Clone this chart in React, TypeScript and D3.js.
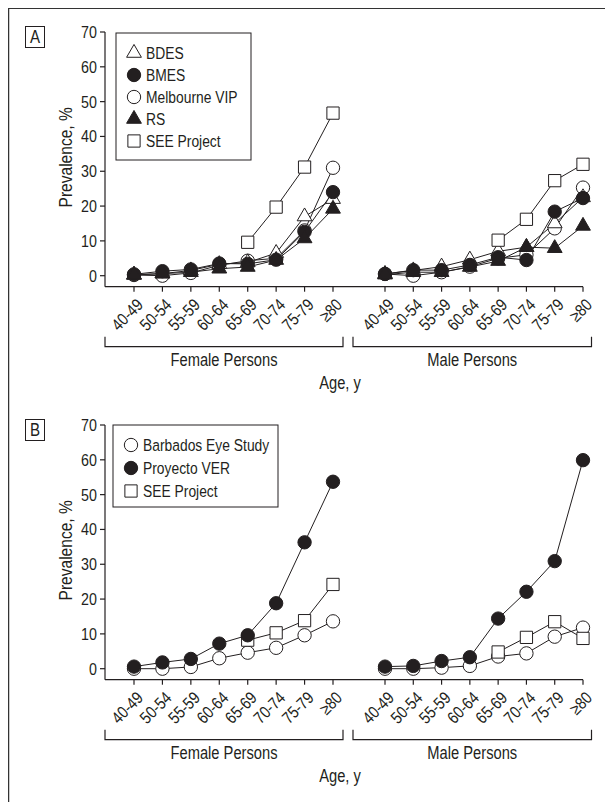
import React from 'react';
import * as d3 from 'd3';

const ageGroups = ['40-49', '50-54', '55-59', '60-64', '65-69', '70-74', '75-79', '≥80'];
const yTicks = [0, 10, 20, 30, 40, 50, 60, 70];

// panel A, female
const bdesF = [0.3, 0.6, 1.5, 3.3, 3.8, 6.5, 17.0, 22.0];
const bmesF = [0.4, 1.3, 1.8, 3.5, 3.4, 4.6, 12.6, 24.0];
const melbF = [0.2, 0.0, 0.8, 3.0, 4.3, 5.0, 13.0, 31.0];
const rsF = [0.2, 0.6, 1.0, 2.0, 2.5, 4.5, 10.7, 19.2];
const seeAF = [null, null, null, null, 9.6, 19.7, 31.2, 46.7];
// panel A, male
const bdesM = [0.5, 1.5, 2.6, 4.6, 7.0, 8.2, 15.0, 22.5];
const bmesM = [0.5, 1.6, 1.6, 3.1, 5.3, 4.5, 18.4, 22.3];
const melbM = [0.5, 0.0, 1.0, 2.6, 5.0, 6.0, 13.6, 25.3];
const rsM = [0.3, 1.0, 1.0, 2.5, 4.2, 8.2, 7.9, 14.3];
const seeAM = [null, null, null, null, 10.2, 16.2, 27.3, 32.0];
// panel B, female
const barbF = [0.0, 0.0, 0.5, 3.0, 4.6, 6.0, 9.6, 13.6];
const verF = [0.6, 1.8, 2.8, 7.2, 9.6, 18.8, 36.3, 53.7];
const seeBF = [null, null, null, null, 8.2, 10.3, 13.8, 24.2];
// panel B, male
const barbM = [0.0, 0.0, 0.3, 0.8, 3.5, 4.4, 9.2, 11.8];
const verM = [0.6, 0.8, 2.2, 3.3, 14.4, 22.1, 30.9, 59.9];
const seeBM = [null, null, null, null, 4.8, 9.0, 13.5, 8.7];

const FONT = "'Liberation Sans', Arial, sans-serif";
const INK = '#231f20';
const NARROW = 0.84; // squeeze Liberation Sans toward a condensed grotesque

type Marker = 'triOpen' | 'triFill' | 'circOpen' | 'circFill' | 'square';

const symbolPath = (m: Marker) => {
  if (m === 'triOpen' || m === 'triFill') return d3.symbol(d3.symbolTriangle, 95)();
  if (m === 'square') return d3.symbol(d3.symbolSquare, 150)();
  return d3.symbol(d3.symbolCircle, 140)();
};
const symbolFill = (m: Marker) => (m === 'triFill' || m === 'circFill' ? INK : '#fff');

// narrow text: position, optional rotation, then horizontal squeeze
function T({ x, y, rotate = 0, anchor = 'start', size = 17, children }: {
  x: number; y: number; rotate?: number; anchor?: string; size?: number; children: React.ReactNode;
}) {
  return (
    <text
      transform={`translate(${x},${y}) rotate(${rotate}) scale(${NARROW},1)`}
      textAnchor={anchor}
      dy="0.35em"
      fontSize={size}
    >
      {children}
    </text>
  );
}

interface Series {
  name: string;
  marker: Marker;
  female: (number | null)[];
  male: (number | null)[];
}

const panelA: Series[] = [
  { name: 'Melbourne VIP', marker: 'circOpen', female: melbF, male: melbM },
  { name: 'BDES', marker: 'triOpen', female: bdesF, male: bdesM },
  { name: 'BMES', marker: 'circFill', female: bmesF, male: bmesM },
  { name: 'RS', marker: 'triFill', female: rsF, male: rsM },
  { name: 'SEE Project', marker: 'square', female: seeAF, male: seeAM },
];
const legendA = ['BDES', 'BMES', 'Melbourne VIP', 'RS', 'SEE Project'];

const panelB: Series[] = [
  { name: 'Barbados Eye Study', marker: 'circOpen', female: barbF, male: barbM },
  { name: 'SEE Project', marker: 'square', female: seeBF, male: seeBM },
  { name: 'Proyecto VER', marker: 'circFill', female: verF, male: verM },
];
const legendB = ['Barbados Eye Study', 'Proyecto VER', 'SEE Project'];

const xF = d3.scalePoint<string>().domain(ageGroups).range([134, 333]);
const xM = d3.scalePoint<string>().domain(ageGroups).range([385, 583]);

function Panel({ top, label, series, legend, legendBox }: {
  top: number;
  label: string;
  series: Series[];
  legend: string[];
  legendBox: { x: number; y: number; w: number; h: number; step: number };
}) {
  const y = d3.scaleLinear().domain([0, 70]).range([top + 243.7, top]);
  const axisY = top + 254.7;
  const axisX = 105;
  const line = d3.line<[number, number | null]>()
    .defined(d => d[1] !== null)
    .x(d => d[0])
    .y(d => y(d[1] as number));

  const groups = [
    { x: xF, key: 'female' as const, title: 'Female Persons', b0: 105, b1: 343 },
    { x: xM, key: 'male' as const, title: 'Male Persons', b0: 353, b1: 591.5 },
  ];

  return (
    <g>
      <rect x={25.5} y={top - 5.5} width={19} height={21} fill="none" stroke={INK} strokeWidth={1} />
      <T x={35} y={top + 5} anchor="middle" size={18}>{label}</T>

      {/* y axis */}
      <line x1={axisX} x2={axisX} y1={y(70)} y2={axisY} stroke={INK} strokeWidth={1.2} />
      {yTicks.map(t => (
        <g key={t}>
          <line x1={axisX - 5} x2={axisX} y1={y(t)} y2={y(t)} stroke={INK} strokeWidth={1.2} />
          <T x={axisX - 8} y={y(t)} anchor="end" size={17}>{t}</T>
        </g>
      ))}
      <T x={66} y={(y(70) + axisY) / 2 - 2} rotate={-90} anchor="middle" size={18.5}>Prevalence, %</T>

      {/* x axis */}
      <line x1={axisX} x2={xM('≥80')} y1={axisY} y2={axisY} stroke={INK} strokeWidth={1.2} />
      {groups.map(g => (
        <g key={g.key}>
          {ageGroups.map(a => (
            <g key={a}>
              <line x1={g.x(a)} x2={g.x(a)} y1={axisY} y2={axisY + 5} stroke={INK} strokeWidth={1.2} />
              <T x={(g.x(a) as number) + 6} y={axisY + 15} rotate={-45} anchor="end" size={17}>{a}</T>
            </g>
          ))}
          <path
            d={`M${g.b0},${axisY + 50}V${axisY + 60}H${g.b1}V${axisY + 50}`}
            fill="none"
            stroke={INK}
            strokeWidth={1.2}
          />
          <T x={(g.b0 + g.b1) / 2} y={axisY + 73} anchor="middle" size={17.5}>{g.title}</T>
        </g>
      ))}
      <T x={340} y={axisY + 96} anchor="middle" size={17.5}>Age, y</T>

      {/* lines */}
      {series.map(s => groups.map(g => (
        <path
          key={s.name + g.key}
          d={line(ageGroups.map((a, i) => [g.x(a) as number, s[g.key][i]])) || ''}
          fill="none"
          stroke={INK}
          strokeWidth={1}
        />
      )))}
      {/* markers */}
      {series.map(s => groups.map(g => ageGroups.map((a, i) => {
        const v = s[g.key][i];
        if (v === null) return null;
        return (
          <path
            key={s.name + g.key + a}
            d={symbolPath(s.marker) || ''}
            transform={`translate(${g.x(a)},${y(v)})`}
            fill={symbolFill(s.marker)}
            stroke={INK}
            strokeWidth={1}
          />
        );
      })))}

      {/* legend */}
      <rect x={legendBox.x} y={legendBox.y} width={legendBox.w} height={legendBox.h} fill="#fff" stroke={INK} strokeWidth={1} />
      {legend.map((name, i) => {
        const s = series.find(d => d.name === name) as Series;
        const cy = legendBox.y + 20 + i * legendBox.step;
        return (
          <g key={name}>
            <path
              d={symbolPath(s.marker) || ''}
              transform={`translate(${legendBox.x + 18},${cy})`}
              fill={symbolFill(s.marker)}
              stroke={INK}
              strokeWidth={1}
            />
            <T x={legendBox.x + 30} y={cy} size={16.5}>{name}</T>
          </g>
        );
      })}
    </g>
  );
}

export default function App() {
  return (
    <svg width={605} height={794} style={{ display: 'block' }} fontFamily={FONT} fill={INK}>
      <rect x={0} y={0} width={605} height={794} fill="#fff" />
      <line x1={0} x2={605} y1={0} y2={0} stroke="#333" strokeWidth={2} />
      <line x1={0.5} x2={0.5} y1={0} y2={794} stroke="#333" strokeWidth={1.5} />
      <g transform="translate(-8,-8)">
        <Panel
          top={32}
          label="A"
          series={panelA}
          legend={legendA}
          legendBox={{ x: 116, y: 33, w: 135, h: 127, step: 22 }}
        />
        <Panel
          top={425}
          label="B"
          series={panelB}
          legend={legendB}
          legendBox={{ x: 113, y: 425, w: 165, h: 82, step: 23 }}
        />
      </g>
    </svg>
  );
}
